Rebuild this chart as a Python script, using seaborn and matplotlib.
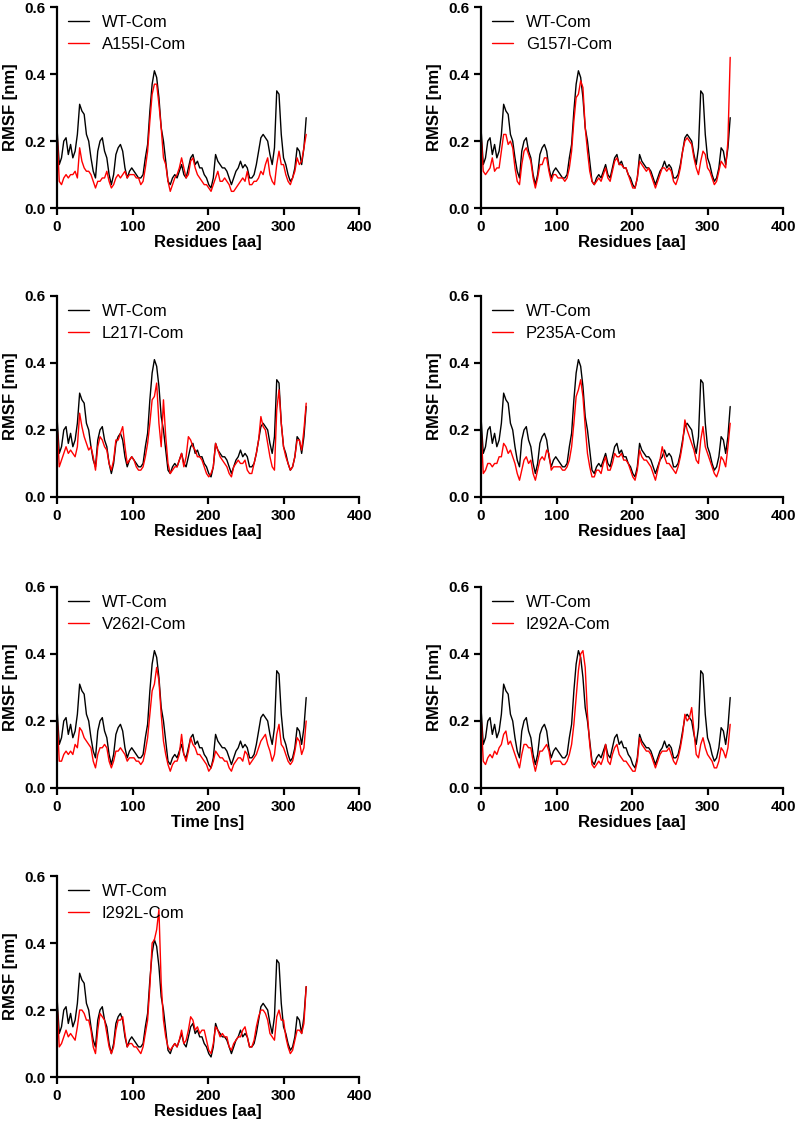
import numpy as np
import pandas as pd
import matplotlib
matplotlib.use("Agg")
import matplotlib.pyplot as plt
import seaborn as sns

# residue positions (every 3rd residue)
residues = np.arange(0, 331, 3)

wt = [0.24, 0.13, 0.15, 0.20, 0.21, 0.16, 0.19, 0.15, 0.17, 0.22,
      0.31, 0.29, 0.28, 0.22, 0.20, 0.15, 0.11, 0.09, 0.17, 0.20,
      0.21, 0.17, 0.15, 0.10, 0.07, 0.10, 0.16, 0.18, 0.19, 0.17,
      0.12, 0.09, 0.11, 0.12, 0.11, 0.10, 0.09, 0.09, 0.10, 0.15,
      0.19, 0.29, 0.37, 0.41, 0.39, 0.33, 0.24, 0.20, 0.14, 0.08,
      0.07, 0.09, 0.10, 0.09, 0.11, 0.13, 0.10, 0.09, 0.12, 0.15,
      0.16, 0.13, 0.14, 0.12, 0.12, 0.10, 0.09, 0.07, 0.06, 0.09,
      0.16, 0.14, 0.13, 0.12, 0.12, 0.11, 0.09, 0.07, 0.09, 0.11,
      0.12, 0.14, 0.12, 0.13, 0.12, 0.09, 0.09, 0.10, 0.13, 0.17,
      0.21, 0.22, 0.21, 0.20, 0.16, 0.13, 0.18, 0.35, 0.34, 0.22,
      0.15, 0.13, 0.10, 0.08, 0.09, 0.12, 0.18, 0.17, 0.13, 0.18, 0.27]

a155i = [0.23, 0.08, 0.07, 0.09, 0.10, 0.09, 0.10, 0.10, 0.11, 0.09,
         0.18, 0.14, 0.12, 0.11, 0.11, 0.10, 0.08, 0.06, 0.08, 0.08,
         0.09, 0.09, 0.11, 0.08, 0.06, 0.07, 0.09, 0.10, 0.09, 0.10,
         0.11, 0.09, 0.10, 0.10, 0.10, 0.09, 0.09, 0.07, 0.08, 0.12,
         0.17, 0.26, 0.34, 0.37, 0.37, 0.31, 0.24, 0.15, 0.13, 0.08,
         0.05, 0.07, 0.09, 0.10, 0.12, 0.15, 0.12, 0.09, 0.10, 0.14,
         0.15, 0.12, 0.10, 0.09, 0.08, 0.07, 0.07, 0.06, 0.05, 0.07,
         0.09, 0.11, 0.08, 0.08, 0.09, 0.08, 0.07, 0.05, 0.05, 0.06,
         0.07, 0.08, 0.09, 0.08, 0.11, 0.07, 0.07, 0.08, 0.08, 0.09,
         0.11, 0.10, 0.13, 0.15, 0.10, 0.08, 0.07, 0.13, 0.17, 0.13,
         0.13, 0.10, 0.08, 0.07, 0.09, 0.11, 0.15, 0.13, 0.14, 0.18, 0.22]

g157i = [0.22, 0.11, 0.10, 0.11, 0.12, 0.15, 0.11, 0.12, 0.12, 0.17,
         0.22, 0.22, 0.19, 0.20, 0.18, 0.12, 0.08, 0.07, 0.13, 0.17,
         0.18, 0.16, 0.14, 0.09, 0.06, 0.09, 0.13, 0.13, 0.15, 0.15,
         0.11, 0.08, 0.10, 0.10, 0.09, 0.09, 0.09, 0.08, 0.09, 0.12,
         0.17, 0.26, 0.33, 0.34, 0.38, 0.36, 0.24, 0.17, 0.11, 0.08,
         0.07, 0.08, 0.09, 0.08, 0.10, 0.12, 0.09, 0.08, 0.11, 0.14,
         0.15, 0.13, 0.13, 0.12, 0.12, 0.10, 0.08, 0.06, 0.06, 0.09,
         0.14, 0.13, 0.12, 0.11, 0.12, 0.10, 0.08, 0.06, 0.08, 0.10,
         0.12, 0.12, 0.11, 0.12, 0.11, 0.08, 0.07, 0.09, 0.12, 0.17,
         0.20, 0.21, 0.20, 0.19, 0.15, 0.12, 0.10, 0.14, 0.17, 0.16,
         0.12, 0.11, 0.09, 0.07, 0.08, 0.11, 0.14, 0.13, 0.12, 0.20, 0.45]

l217i = [0.22, 0.09, 0.11, 0.13, 0.15, 0.13, 0.14, 0.13, 0.12, 0.15,
         0.25, 0.21, 0.18, 0.16, 0.14, 0.15, 0.12, 0.08, 0.15, 0.18,
         0.17, 0.15, 0.14, 0.10, 0.08, 0.11, 0.17, 0.17, 0.19, 0.21,
         0.15, 0.10, 0.11, 0.12, 0.11, 0.09, 0.08, 0.08, 0.09, 0.12,
         0.16, 0.22, 0.29, 0.30, 0.34, 0.22, 0.15, 0.29, 0.18, 0.10,
         0.07, 0.08, 0.09, 0.09, 0.11, 0.13, 0.09, 0.12, 0.18, 0.17,
         0.15, 0.14, 0.12, 0.12, 0.11, 0.09, 0.07, 0.06, 0.07, 0.09,
         0.16, 0.14, 0.12, 0.11, 0.10, 0.09, 0.07, 0.06, 0.09, 0.10,
         0.11, 0.10, 0.10, 0.11, 0.08, 0.07, 0.07, 0.10, 0.13, 0.17,
         0.24, 0.21, 0.20, 0.16, 0.12, 0.09, 0.08, 0.26, 0.32, 0.22,
         0.15, 0.12, 0.10, 0.08, 0.09, 0.12, 0.17, 0.17, 0.14, 0.20, 0.28]

p235a = [0.21, 0.07, 0.08, 0.10, 0.10, 0.09, 0.10, 0.10, 0.12, 0.12,
         0.16, 0.15, 0.13, 0.14, 0.12, 0.10, 0.07, 0.05, 0.08, 0.11,
         0.12, 0.10, 0.11, 0.07, 0.05, 0.08, 0.11, 0.12, 0.11, 0.14,
         0.13, 0.08, 0.09, 0.09, 0.09, 0.09, 0.08, 0.08, 0.09, 0.11,
         0.15, 0.22, 0.30, 0.32, 0.35, 0.30, 0.21, 0.13, 0.09, 0.06,
         0.06, 0.08, 0.08, 0.07, 0.10, 0.12, 0.08, 0.08, 0.10, 0.13,
         0.12, 0.12, 0.13, 0.11, 0.11, 0.10, 0.08, 0.06, 0.05, 0.08,
         0.14, 0.12, 0.11, 0.11, 0.10, 0.09, 0.07, 0.05, 0.08, 0.11,
         0.15, 0.12, 0.10, 0.10, 0.09, 0.08, 0.07, 0.09, 0.12, 0.16,
         0.23, 0.20, 0.18, 0.16, 0.14, 0.11, 0.10, 0.17, 0.21, 0.15,
         0.13, 0.11, 0.09, 0.07, 0.06, 0.08, 0.12, 0.11, 0.09, 0.15, 0.22]

v262i = [0.22, 0.08, 0.08, 0.10, 0.11, 0.10, 0.11, 0.10, 0.13, 0.12,
         0.18, 0.17, 0.15, 0.14, 0.13, 0.12, 0.08, 0.06, 0.10, 0.12,
         0.12, 0.13, 0.12, 0.08, 0.06, 0.08, 0.11, 0.11, 0.12, 0.11,
         0.10, 0.08, 0.09, 0.09, 0.09, 0.08, 0.08, 0.07, 0.08, 0.11,
         0.15, 0.22, 0.29, 0.31, 0.36, 0.32, 0.22, 0.14, 0.10, 0.07,
         0.05, 0.07, 0.08, 0.08, 0.10, 0.16, 0.10, 0.08, 0.11, 0.15,
         0.13, 0.12, 0.10, 0.10, 0.09, 0.08, 0.07, 0.05, 0.06, 0.08,
         0.11, 0.10, 0.09, 0.09, 0.08, 0.08, 0.06, 0.05, 0.07, 0.08,
         0.09, 0.09, 0.08, 0.11, 0.10, 0.07, 0.08, 0.09, 0.10, 0.12,
         0.14, 0.15, 0.16, 0.13, 0.11, 0.08, 0.10, 0.16, 0.19, 0.13,
         0.12, 0.10, 0.08, 0.07, 0.08, 0.11, 0.15, 0.14, 0.10, 0.12, 0.20]

i292a = [0.22, 0.08, 0.07, 0.09, 0.10, 0.09, 0.11, 0.10, 0.12, 0.13,
         0.16, 0.17, 0.13, 0.14, 0.12, 0.10, 0.08, 0.06, 0.10, 0.13,
         0.13, 0.12, 0.12, 0.08, 0.05, 0.08, 0.11, 0.11, 0.12, 0.13,
         0.11, 0.07, 0.08, 0.08, 0.08, 0.08, 0.07, 0.07, 0.08, 0.10,
         0.13, 0.19, 0.27, 0.35, 0.40, 0.41, 0.36, 0.22, 0.13, 0.07,
         0.06, 0.07, 0.08, 0.07, 0.09, 0.13, 0.08, 0.07, 0.10, 0.12,
         0.13, 0.10, 0.09, 0.08, 0.08, 0.07, 0.06, 0.05, 0.05, 0.08,
         0.15, 0.13, 0.12, 0.11, 0.11, 0.10, 0.08, 0.06, 0.08, 0.10,
         0.11, 0.11, 0.11, 0.12, 0.10, 0.08, 0.07, 0.09, 0.12, 0.16,
         0.22, 0.20, 0.21, 0.24, 0.17, 0.10, 0.09, 0.13, 0.15, 0.12,
         0.10, 0.09, 0.08, 0.06, 0.06, 0.08, 0.12, 0.11, 0.09, 0.12, 0.19]

i292l = [0.22, 0.09, 0.10, 0.12, 0.14, 0.12, 0.13, 0.12, 0.11, 0.15,
         0.20, 0.20, 0.19, 0.17, 0.17, 0.14, 0.09, 0.07, 0.14, 0.19,
         0.18, 0.17, 0.13, 0.09, 0.07, 0.09, 0.14, 0.17, 0.17, 0.18,
         0.13, 0.09, 0.10, 0.10, 0.09, 0.09, 0.08, 0.07, 0.09, 0.13,
         0.17, 0.27, 0.40, 0.41, 0.44, 0.50, 0.28, 0.17, 0.12, 0.09,
         0.08, 0.09, 0.10, 0.09, 0.11, 0.14, 0.10, 0.11, 0.14, 0.18,
         0.17, 0.14, 0.15, 0.13, 0.14, 0.14, 0.11, 0.08, 0.07, 0.10,
         0.15, 0.14, 0.12, 0.13, 0.12, 0.12, 0.09, 0.08, 0.10, 0.11,
         0.12, 0.12, 0.14, 0.15, 0.12, 0.09, 0.09, 0.11, 0.15, 0.18,
         0.20, 0.20, 0.19, 0.17, 0.13, 0.12, 0.11, 0.18, 0.20, 0.17,
         0.17, 0.12, 0.09, 0.07, 0.08, 0.11, 0.14, 0.14, 0.13, 0.16, 0.27]

mutant_names = ["A155I-Com", "G157I-Com", "L217I-Com", "P235A-Com",
                "V262I-Com", "I292A-Com", "I292L-Com"]
mutant_values = [a155i, g157i, l217i, p235a, v262i, i292a, i292l]
x_labels = ["Residues [aa]", "Residues [aa]", "Residues [aa]", "Residues [aa]",
            "Time [ns]", "Residues [aa]", "Residues [aa]"]

sns.set_theme(style="ticks")
plt.rcParams['font.family'] = ['Liberation Sans', 'DejaVu Sans']
plt.rcParams['axes.linewidth'] = 1.6
plt.rcParams['xtick.major.width'] = 1.6
plt.rcParams['ytick.major.width'] = 1.6
plt.rcParams['xtick.major.size'] = 5
plt.rcParams['ytick.major.size'] = 5
plt.rcParams['xtick.color'] = 'black'
plt.rcParams['ytick.color'] = 'black'
plt.rcParams['axes.edgecolor'] = 'black'
plt.rcParams['axes.labelcolor'] = 'black'
plt.rcParams['text.color'] = 'black'

fig = plt.figure(figsize=(7.97, 11.31), dpi=100)

lefts = [0.0715, 0.6035]
bottoms = [0.816, 0.5606, 0.3033, 0.0477]
w, h = 0.379, 0.1777

for i, (name, vals, xl) in enumerate(zip(mutant_names, mutant_values, x_labels)):
    ax = fig.add_axes([lefts[i % 2], bottoms[i // 2], w, h])
    df = pd.DataFrame({
        "Residue": np.concatenate([residues, residues]),
        "RMSF": np.concatenate([wt, vals]),
        "Sample": ["WT-Com"] * len(residues) + [name] * len(residues),
    })
    sns.lineplot(data=df, x="Residue", y="RMSF", hue="Sample",
                 palette={"WT-Com": "black", name: "red"}, linewidth=1.0, ax=ax)
    ax.set_xlim(0, 400)
    ax.set_ylim(0, 0.6)
    ax.set_xticks([0, 100, 200, 300, 400])
    ax.set_yticks([0.0, 0.2, 0.4, 0.6])
    ax.set_yticklabels(["0.0", "0.2", "0.4", "0.6"])
    for lab in ax.get_xticklabels() + ax.get_yticklabels():
        lab.set_fontweight("bold")
        lab.set_fontsize(11)
    ax.set_xlabel(xl, fontsize=12, fontweight="bold", labelpad=1)
    ax.set_ylabel("RMSF [nm]", fontsize=12, fontweight="bold", labelpad=4)
    sns.despine(ax=ax)
    ax.legend(loc="upper left", bbox_to_anchor=(0.014, 0.995), frameon=False,
              fontsize=12, handlelength=1.26, handletextpad=0.78,
              labelspacing=0.45, borderaxespad=0)

fig.savefig("out.png", dpi=100)
